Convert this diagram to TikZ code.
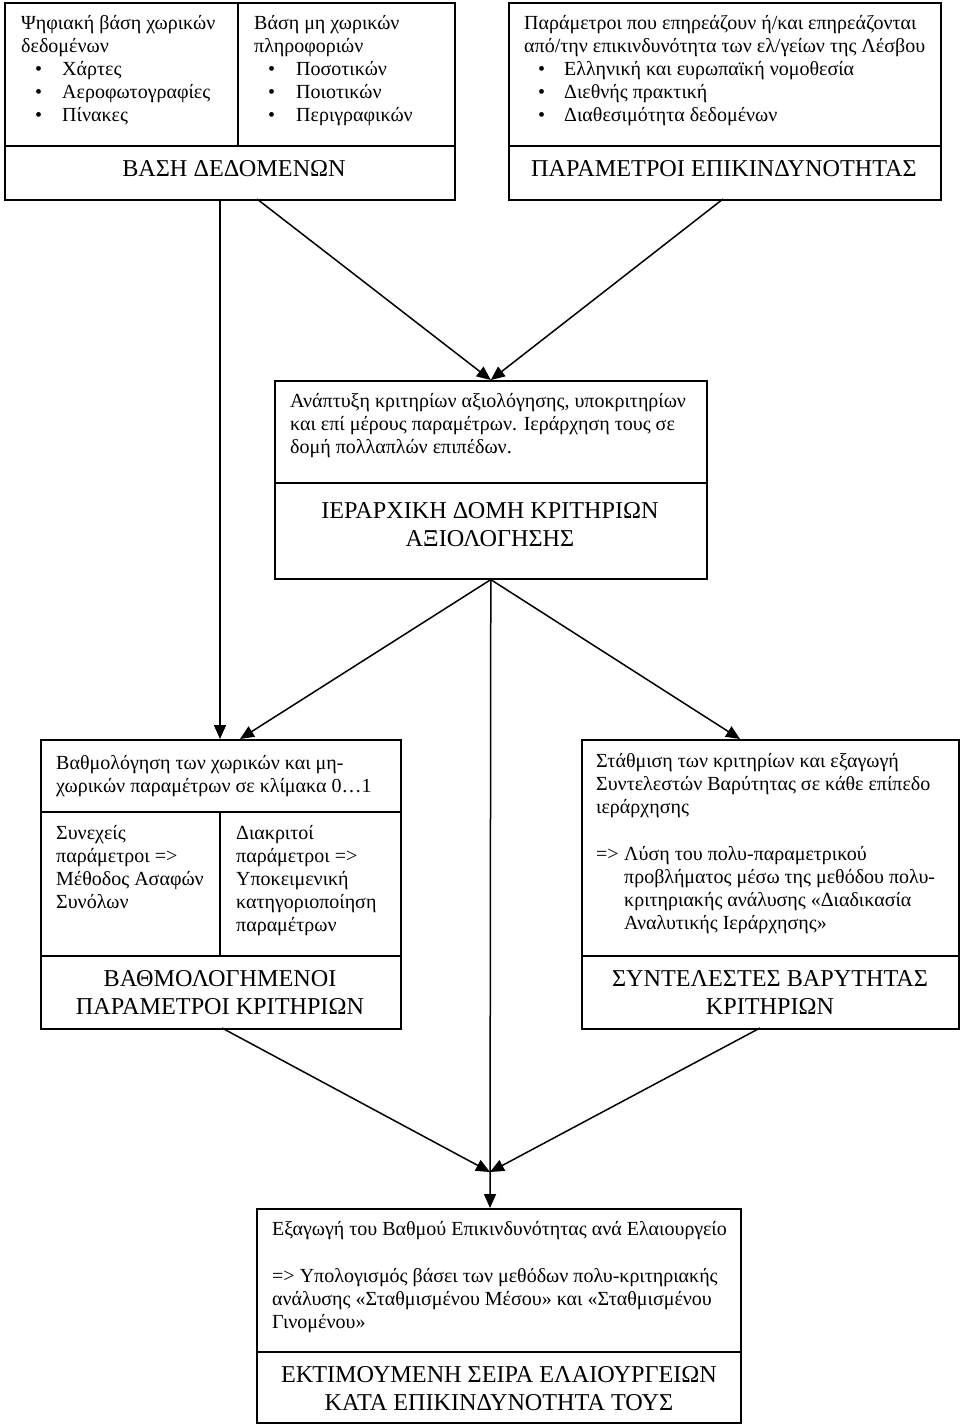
\documentclass[tikz,border=0pt]{standalone}
\usepackage{fontspec}
\setmainfont{Liberation Serif}
\usetikzlibrary{arrows.meta}
\begin{document}
\begin{tikzpicture}[x=1pt,y=-1pt,
  box/.style={draw, line width=1.6pt, inner sep=0pt, anchor=north west},
  txt/.style={anchor=base west, inner sep=0pt, font=\fontsize{20}{23}\selectfont},
  captxt/.style={anchor=base, inner sep=0pt, font=\fontsize{24.2}{28}\selectfont},
  arr/.style={line width=1.5pt, -{Triangle[length=14pt,width=12pt]}},
  ln/.style={line width=1.6pt}]
\useasboundingbox (0,0) rectangle (960,1425);

% boxes
\node[box, minimum width=450pt, minimum height=197pt] (A) at (4,2) {};
\node[box, minimum width=432pt, minimum height=197pt] (B) at (508,2) {};
\node[box, minimum width=432pt, minimum height=198pt] (C) at (274,380) {};
\node[box, minimum width=360pt, minimum height=289pt] (D) at (40,739) {};
\node[box, minimum width=377pt, minimum height=289pt] (E) at (581,739) {};
\node[box, minimum width=484pt, minimum height=214pt] (F) at (256,1208) {};

% dividers
\draw[ln] (4,146) -- (454,146);
\draw[ln] (238,2) -- (238,146);
\draw[ln] (508,146) -- (940,146);
\draw[ln] (274,483) -- (706,483);
\draw[ln] (40,812) -- (400,812);
\draw[ln] (220,812) -- (220,956);
\draw[ln] (40,956) -- (400,956);
\draw[ln] (581,956) -- (958,956);
\draw[ln] (256,1352) -- (740,1352);

% connector points
\coordinate (a1) at (220,199);
\coordinate (a2) at (257,199);
\coordinate (b1) at (723,199);
\coordinate (d0) at (220,739);
\coordinate (d1) at (240,739);
\coordinate (e0) at (740,739);
\coordinate (d2) at (222,1028);
\coordinate (e2) at (760,1028);
\coordinate (J) at (490,1172);
\coordinate (f0) at (490,1208);

\draw[arr] (a1) -- (d0);
\draw[arr] (a2) -- (C.north);
\draw[arr] (b1) -- (C.north);
\draw[arr] (C.south) -- (d1);
\draw[arr] (C.south) -- (e0);
\draw[arr] (C.south) -- (f0);
\draw[arr] (d2) -- (J);
\draw[arr] (e2) -- (J);

% box A
\node[txt] (a01) at (21,29) {Ψηφιακή βάση χωρικών};
\node[txt] (a02) at (21,52) {δεδομένων};
\node[txt] (a03) at (35,75) {•};
\node[txt] (a04) at (62,75) {Χάρτες};
\node[txt] (a05) at (35,98) {•};
\node[txt] (a06) at (62,98) {Αεροφωτογραφίες};
\node[txt] (a07) at (35,121) {•};
\node[txt] (a08) at (62,121) {Πίνακες};
\node[txt] (a09) at (254,29) {Βάση μη χωρικών};
\node[txt] (a10) at (254,52) {πληροφοριών};
\node[txt] (a11) at (268,75) {•};
\node[txt] (a12) at (296,75) {Ποσοτικών};
\node[txt] (a13) at (268,98) {•};
\node[txt] (a14) at (296,98) {Ποιοτικών};
\node[txt] (a15) at (268,121) {•};
\node[txt] (a16) at (296,121) {Περιγραφικών};
\node[captxt] (a17) at (234,176) {ΒΑΣΗ ΔΕΔΟΜΕΝΩΝ};

% box B
\node[txt] (b01) at (524,29) {Παράμετροι που επηρεάζουν ή/και επηρεάζονται};
\node[txt] (b02) at (524,52) {από/την επικινδυνότητα των ελ/γείων της Λέσβου};
\node[txt] (b03) at (538,75) {•};
\node[txt] (b04) at (564,75) {Ελληνική και ευρωπαϊκή νομοθεσία};
\node[txt] (b05) at (538,98) {•};
\node[txt] (b06) at (564,98) {Διεθνής πρακτική};
\node[txt] (b07) at (538,121) {•};
\node[txt] (b08) at (564,121) {Διαθεσιμότητα δεδομένων};
\node[captxt] (b09) at (724,176) {ΠΑΡΑΜΕΤΡΟΙ ΕΠΙΚΙΝΔΥΝΟΤΗΤΑΣ};

% box C
\node[txt] (c01) at (290,407) {Ανάπτυξη κριτηρίων αξιολόγησης, υποκριτηρίων};
\node[txt] (c02) at (290,430) {και επί μέρους παραμέτρων. Ιεράρχηση τους σε};
\node[txt] (c03) at (290,453) {δομή πολλαπλών επιπέδων.};
\node[captxt] (c04) at (490,518) {ΙΕΡΑΡΧΙΚΗ ΔΟΜΗ ΚΡΙΤΗΡΙΩΝ};
\node[captxt] (c05) at (490,546) {ΑΞΙΟΛΟΓΗΣΗΣ};

% box D
\node[txt] (d01) at (56,769) {Βαθμολόγηση των χωρικών και μη-};
\node[txt] (d02) at (56,792) {χωρικών παραμέτρων σε κλίμακα 0…1};
\node[txt] (d03) at (56,839) {Συνεχείς};
\node[txt] (d04) at (56,862) {παράμετροι =>};
\node[txt] (d05) at (56,885) {Μέθοδος Ασαφών};
\node[txt] (d06) at (56,908) {Συνόλων};
\node[txt] (d07) at (236,839) {Διακριτοί};
\node[txt] (d08) at (236,862) {παράμετροι =>};
\node[txt] (d09) at (236,885) {Υποκειμενική};
\node[txt] (d10) at (236,908) {κατηγοριοποίηση};
\node[txt] (d11) at (236,931) {παραμέτρων};
\node[captxt] (d12) at (220,986) {ΒΑΘΜΟΛΟΓΗΜΕΝΟΙ};
\node[captxt] (d13) at (220,1014) {ΠΑΡΑΜΕΤΡΟΙ ΚΡΙΤΗΡΙΩΝ};

% box E
\node[txt] (e01) at (596,767) {Στάθμιση των κριτηρίων και εξαγωγή};
\node[txt] (e02) at (596,790) {Συντελεστών Βαρύτητας σε κάθε επίπεδο};
\node[txt] (e03) at (596,813) {ιεράρχησης};
\node[txt] (e04) at (596,860) {=>};
\node[txt] (e05) at (624,860) {Λύση του πολυ-παραμετρικού};
\node[txt] (e06) at (624,883) {προβλήματος μέσω της μεθόδου πολυ-};
\node[txt] (e07) at (624,906) {κριτηριακής ανάλυσης «Διαδικασία};
\node[txt] (e08) at (624,929) {Αναλυτικής Ιεράρχησης»};
\node[captxt] (e09) at (770,986) {ΣΥΝΤΕΛΕΣΤΕΣ ΒΑΡΥΤΗΤΑΣ};
\node[captxt] (e10) at (770,1014) {ΚΡΙΤΗΡΙΩΝ};

% box F
\node[txt] (f01) at (272,1235) {Εξαγωγή του Βαθμού Επικινδυνότητας ανά Ελαιουργείο};
\node[txt] (f02) at (272,1282) {=> Υπολογισμός βάσει των μεθόδων πολυ-κριτηριακής};
\node[txt] (f03) at (272,1305) {ανάλυσης «Σταθμισμένου Μέσου» και «Σταθμισμένου};
\node[txt] (f04) at (272,1328) {Γινομένου»};
\node[captxt] (f05) at (499,1382) {ΕΚΤΙΜΟΥΜΕΝΗ ΣΕΙΡΑ ΕΛΑΙΟΥΡΓΕΙΩΝ};
\node[captxt] (f06) at (499,1410) {ΚΑΤΑ ΕΠΙΚΙΝΔΥΝΟΤΗΤΑ ΤΟΥΣ};
\end{tikzpicture}
\end{document}
